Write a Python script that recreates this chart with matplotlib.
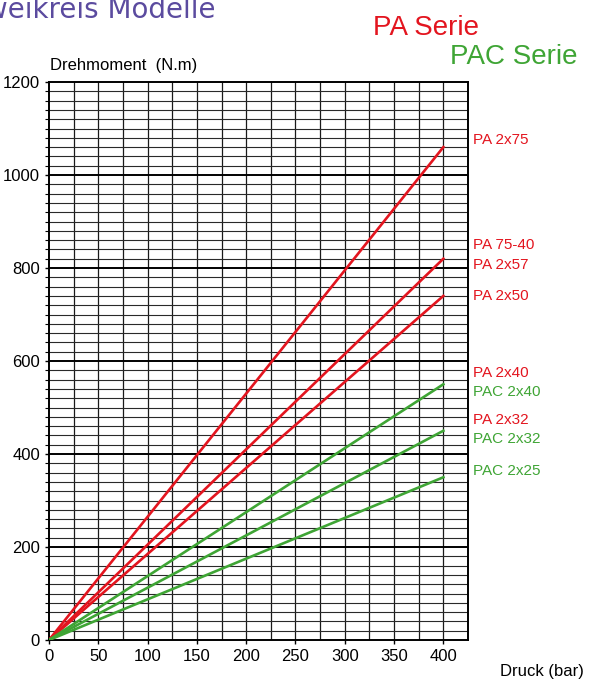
import numpy as np
import matplotlib.pyplot as plt
from matplotlib.ticker import MultipleLocator

plt.rcParams['font.family'] = ['Liberation Sans', 'DejaVu Sans']

# torque at 0 and 400 bar
pressure = [0, 400]
pa_series = {
    'PA 2x75': [0, 1060],
    'PA 2x57': [0, 820],
    'PA 2x50': [0, 740],
}
pac_series = {
    'PAC 2x40': [0, 550],
    'PAC 2x32': [0, 450],
    'PAC 2x25': [0, 350],
}
# right-hand labels: (text, y position)
pa_labels = [('PA 2x75', 1075), ('PA 75-40', 850), ('PA 2x57', 806),
             ('PA 2x50', 740), ('PA 2x40', 574), ('PA 2x32', 473)]
pac_labels = [('PAC 2x40', 533), ('PAC 2x32', 432), ('PAC 2x25', 363)]

red = '#e3151f'
green = '#3fa535'

fig = plt.figure(figsize=(5.89, 6.8), dpi=100)
ax = fig.add_axes([0.0832, 0.0588, 0.7114, 0.8206])

ax.set_xlim(0, 425)
ax.set_ylim(0, 1200)

# grid
for x in np.arange(25, 425, 25):
    ax.axvline(x, color='#1a1a1a', lw=0.9, zorder=1)
for y in np.arange(20, 1200, 20):
    major = y % 200 == 0
    ax.axhline(y, color='#000000' if major else '#2a2a2a',
               lw=1.4 if major else 0.8, zorder=1)

for name, vals in pa_series.items():
    ax.plot(pressure, vals, color=red, lw=1.9, zorder=3)
for name, vals in pac_series.items():
    ax.plot(pressure, vals, color=green, lw=1.9, zorder=3)

for txt, y in pa_labels:
    ax.text(430, y, txt, color=red, fontsize=11, va='center', ha='left',
            clip_on=False)
for txt, y in pac_labels:
    ax.text(430, y, txt, color=green, fontsize=11, va='center', ha='left',
            clip_on=False)

ax.xaxis.set_major_locator(MultipleLocator(50))
ax.yaxis.set_major_locator(MultipleLocator(200))
ax.yaxis.set_minor_locator(MultipleLocator(20))
ax.tick_params(axis='both', labelsize=12, direction='out', length=3,
               width=1, color='black')
ax.tick_params(axis='y', which='minor', length=3, width=0.8)
for s in ax.spines.values():
    s.set_linewidth(1.4)
    s.set_color('black')

fig.text(500 / 589, 1 - 676 / 680, 'Druck (bar)', fontsize=12,
         va='baseline', ha='left')
fig.text(50 / 589, 1 - 70 / 680, 'Drehmoment  (N.m)', fontsize=12,
         va='baseline', ha='left')

# title is cut off at the left edge in the original
fig.text(216 / 589, 1 - 18 / 680, 'Zweikreis Modelle', fontsize=20,
         family='DejaVu Sans', color='#5b4b9f', va='baseline', ha='right')
fig.text(373 / 589, 1 - 35 / 680, 'PA Serie', fontsize=20,
         color=red, va='baseline', ha='left')
fig.text(450 / 589, 1 - 64 / 680, 'PAC Serie', fontsize=20,
         color=green, va='baseline', ha='left')

fig.savefig('out.png', dpi=100)
